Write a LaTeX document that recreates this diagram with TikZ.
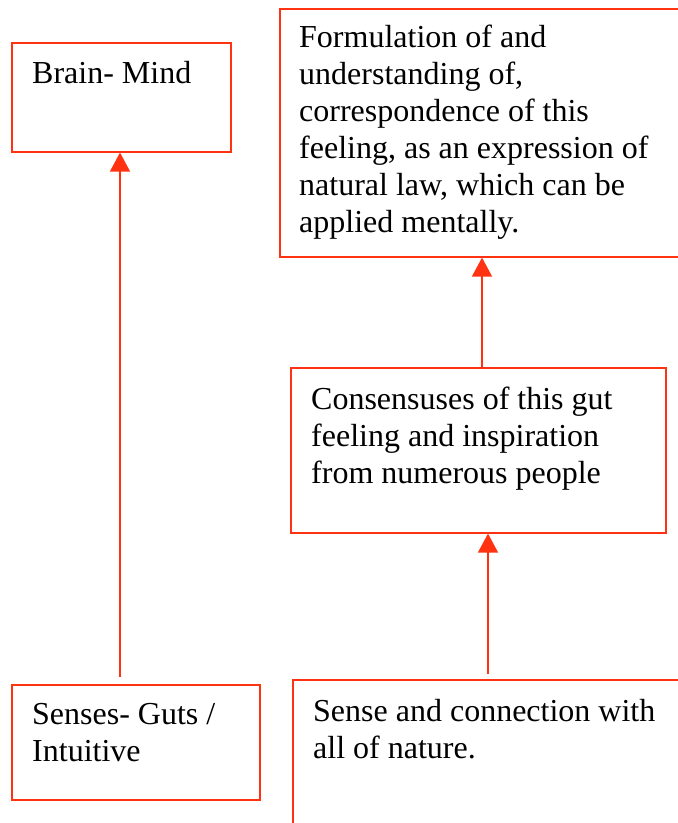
\documentclass[tikz,border=0pt]{standalone}
\usepackage{fontspec}
\setmainfont{Liberation Serif}
\usetikzlibrary{arrows.meta,positioning}
\definecolor{boxred}{RGB}{255,51,17}

\begin{document}
\begin{tikzpicture}[x=1pt, y=-1pt, >={Triangle[length=19pt, width=20pt]},
        frame/.style={rectangle, draw=boxred, line width=1.6pt, anchor=north west, inner sep=0pt},
        txt/.style={anchor=north west, inner sep=0pt, align=left, font=\fontsize{32}{37}\selectfont},
        link/.style={->, draw=boxred, line width=1.6pt}
    ]
    \clip (0,0) rectangle (678,823);

    % Brain- Mind
    \node[frame, minimum width=219pt, minimum height=109pt] (brain) at (11,42) {};
    \node[txt] (braintxt) at (32,57.5) {\strut Brain- Mind};

    % Formulation
    \node[frame, minimum width=420pt, minimum height=248pt] (form) at (279,8) {};
    \node[txt] (formtxt) at (299,21.5) {\strut Formulation of and\\ understanding of,\\ correspondence of this\\ feeling, as an expression of\\ natural law, which can be\\ applied mentally.};

    % Consensuses
    \node[frame, minimum width=375pt, minimum height=165pt] (cons) at (290,367) {};
    \node[txt] (constxt) at (311,383) {\strut Consensuses of this gut\\ feeling and inspiration\\ from numerous people};

    % Senses- Guts
    \node[frame, minimum width=248pt, minimum height=115pt] (senses) at (11,684) {};
    \node[txt] (sensestxt) at (32,698.5) {\strut Senses- Guts /\\ Intuitive};

    % Sense and connection
    \node[frame, minimum width=420pt, minimum height=200pt] (nature) at (292,679) {};
    \node[txt] (naturetxt) at (313,695.5) {\strut Sense and connection with\\ all of nature.};

    % arrows
    \coordinate (leftx) at (120,0);
    \coordinate (midx) at (482,0);
    \coordinate (lowx) at (488,0);
    \draw[link, shorten <=7pt] (senses.north -| leftx) -- (brain.south -| leftx);
    \draw[link] (cons.north -| midx) -- (form.south -| midx);
    \draw[link, shorten <=5pt] (nature.north -| lowx) -- (cons.south -| lowx);
\end{tikzpicture}
\end{document}
